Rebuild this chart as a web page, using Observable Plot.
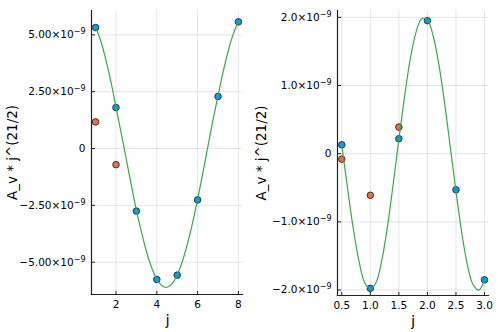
<!DOCTYPE html>
<html>
<head>
<meta charset="utf-8">
<script src="https://cdn.jsdelivr.net/npm/d3@7"></script>
<script src="https://cdn.jsdelivr.net/npm/@observablehq/plot@0.6"></script>
<style>
  html, body { margin: 0; padding: 0; background: #fff; }
  #wrap { display: flex; width: 498px; height: 332px; }
  svg { font-family: "DejaVu Sans", sans-serif; }
</style>
</head>
<body>
<div id="wrap"></div>
<script>
// ---------- Left panel data ----------
const leftJ = [1, 2, 3, 4, 5, 6, 7, 8];
const leftBlue = [5.32e-9, 1.80e-9, -2.75e-9, -5.76e-9, -5.57e-9, -2.26e-9, 2.29e-9, 5.57e-9];
const leftOrangeJ = [1, 2];
const leftOrange = [1.17e-9, -0.71e-9];
const leftCurveJ = [1, 1.25, 1.5, 1.75, 2, 2.25, 2.5, 2.75, 3, 3.25, 3.5, 3.75, 4, 4.25, 4.5, 4.75, 5, 5.25, 5.5, 5.75, 6, 6.25, 6.5, 6.75, 7, 7.25, 7.5, 7.75, 8];
const leftCurve = [5.33e-9, 4.74e-9, 3.92e-9, 2.94e-9, 1.82e-9, 0.70e-9, -0.45e-9, -1.60e-9, -2.72e-9, -3.69e-9, -4.55e-9, -5.24e-9, -5.75e-9, -6.03e-9, -6.10e-9, -5.94e-9, -5.56e-9, -4.97e-9, -4.20e-9, -3.28e-9, -2.24e-9, -1.10e-9, 0.07e-9, 1.24e-9, 2.33e-9, 3.37e-9, 4.29e-9, 5.04e-9, 5.59e-9];
const leftXTicks = [2, 4, 6, 8];
const leftYTicks = [5e-9, 2.5e-9, 0, -2.5e-9, -5e-9];
const leftYTickLabels = ["5.00×10|−9", "2.50×10|−9", "0", "−2.50×10|−9", "−5.00×10|−9"];

// ---------- Right panel data ----------
const rightJ = [0.5, 1.0, 1.5, 2.0, 2.5, 3.0];
const rightBlue = [0.13e-9, -1.975e-9, 0.22e-9, 1.95e-9, -0.53e-9, -1.85e-9];
const rightOrangeJ = [0.5, 1.0, 1.5];
const rightOrange = [-0.08e-9, -0.61e-9, 0.39e-9];
const rightCurveJ = [0.5, 0.6, 0.7, 0.8, 0.9, 1.0, 1.1, 1.2, 1.3, 1.4, 1.5, 1.6, 1.7, 1.8, 1.9, 2.0, 2.1, 2.2, 2.3, 2.4, 2.5, 2.6, 2.7, 2.8, 2.9, 3.0];
const rightCurve = [0.13e-9, -0.50e-9, -1.09e-9, -1.57e-9, -1.89e-9, -1.99e-9, -1.89e-9, -1.57e-9, -1.07e-9, -0.45e-9, 0.21e-9, 0.84e-9, 1.39e-9, 1.78e-9, 1.98e-9, 1.96e-9, 1.73e-9, 1.31e-9, 0.75e-9, 0.10e-9, -0.55e-9, -1.15e-9, -1.63e-9, -1.92e-9, -2.00e-9, -1.86e-9];
const rightXTicks = [0.5, 1.0, 1.5, 2.0, 2.5, 3.0];
const rightXTickLabels = ["0.5", "1.0", "1.5", "2.0", "2.5", "3.0"];
const rightYTicks = [2e-9, 1e-9, 0, -1e-9, -2e-9];
const rightYTickLabels = ["2.0×10|−9", "1.0×10|−9", "0", "−1.0×10|−9", "−2.0×10|−9"];

const yLabel = "A_v * j^(21/2)";
const xLabel = "j";

const BLUE = "#009AFA", ORANGE = "#E36F47", GREEN = "#3EA44E";

function panel(cfg) {
  const blue = cfg.j.map((j, i) => ({j, v: cfg.blue[i]}));
  const orange = cfg.oj.map((j, i) => ({j, v: cfg.orange[i]}));
  const curve = cfg.cj.map((j, i) => ({j, v: cfg.curve[i]}));
  return Plot.plot({
    width: 249,
    height: 332,
    marginLeft: cfg.ml,
    marginRight: cfg.mr,
    marginTop: 10,
    marginBottom: cfg.mb,
    style: {background: "#fff", fontFamily: "DejaVu Sans, sans-serif", fontSize: "10.5px", color: "#000"},
    x: {domain: cfg.xd},
    y: {domain: cfg.yd},
    marks: [
      Plot.gridX(cfg.xt, {stroke: "#000", strokeOpacity: 0.1, strokeWidth: 1}),
      Plot.gridY(cfg.yt, {stroke: "#000", strokeOpacity: 0.1, strokeWidth: 1}),
      Plot.axisX(cfg.xt, {tickSize: -3, tickPadding: 9, stroke: "#222", tickFormat: cfg.xf, fill: "#000", fontSize: 10.5, label: null}),
      Plot.axisY(cfg.yt, {tickSize: -4, tickPadding: 10, stroke: "#222", tickFormat: cfg.yf, fill: "#000", fontSize: 10.5, label: null}),
      Plot.frame({anchor: "left", stroke: "#222", strokeWidth: 1.2}),
      Plot.frame({anchor: "bottom", stroke: "#222", strokeWidth: 1.2}),
      Plot.dot(blue, {x: "j", y: "v", r: 3.3, fill: BLUE, stroke: "#1a1a1a", strokeWidth: 0.8}),
      Plot.dot(orange, {x: "j", y: "v", r: 3.3, fill: ORANGE, stroke: "#1a1a1a", strokeWidth: 0.8}),
      Plot.line(curve, {x: "j", y: "v", curve: "catmull-rom", stroke: GREEN, strokeWidth: 1.2}),
      Plot.text([yLabel], {frameAnchor: "left", rotate: -90, dx: cfg.ydx, fontSize: 13.5, fill: "#000", textAnchor: "middle", lineAnchor: "middle"}),
      Plot.text([xLabel], {frameAnchor: "bottom", dy: 26, dx: cfg.xdx, fontSize: 13.5, fill: "black", stroke: "black", strokeWidth: 0.15, textAnchor: "middle", lineAnchor: "middle"})
    ]
  });
}

// Render "base|exponent" tick labels with a raised, smaller exponent
function superscripts(svg) {
  svg.querySelectorAll("text").forEach(t => {
    const s = t.textContent;
    const k = s.indexOf("|");
    if (k < 0) return;
    const base = s.slice(0, k), exp = s.slice(k + 1);
    while (t.firstChild) t.removeChild(t.firstChild);
    const ns = "http://www.w3.org/2000/svg";
    const a = document.createElementNS(ns, "tspan");
    a.textContent = base;
    const b = document.createElementNS(ns, "tspan");
    b.textContent = exp;
    b.setAttribute("dy", "-0.5em");
    b.setAttribute("font-size", "8px");
    t.appendChild(a);
    t.appendChild(b);
  });
  return svg;
}

const wrap = document.getElementById("wrap");
wrap.appendChild(superscripts(panel({
  j: leftJ, blue: leftBlue, oj: leftOrangeJ, orange: leftOrange, cj: leftCurveJ, curve: leftCurve,
  ml: 91, mr: 7, mb: 38,
  xd: [0.8, 8.2], yd: [-6.42e-9, 6.07e-9],
  xt: leftXTicks, yt: leftYTicks,
  xf: d => String(d),
  yf: d => leftYTickLabels[leftYTicks.indexOf(d)],
  ydx: -78.5, xdx: 0.5
})));
wrap.appendChild(superscripts(panel({
  j: rightJ, blue: rightBlue, oj: rightOrangeJ, orange: rightOrange, cj: rightCurveJ, curve: rightCurve,
  ml: 88, mr: 10, mb: 37,
  xd: [0.425, 3.07], yd: [-2.08e-9, 2.1e-9],
  xt: rightXTicks, yt: rightYTicks,
  xf: d => rightXTickLabels[rightXTicks.indexOf(d)],
  yf: d => rightYTickLabels[rightYTicks.indexOf(d)],
  ydx: -76, xdx: 0
})));
</script>
</body>
</html>
